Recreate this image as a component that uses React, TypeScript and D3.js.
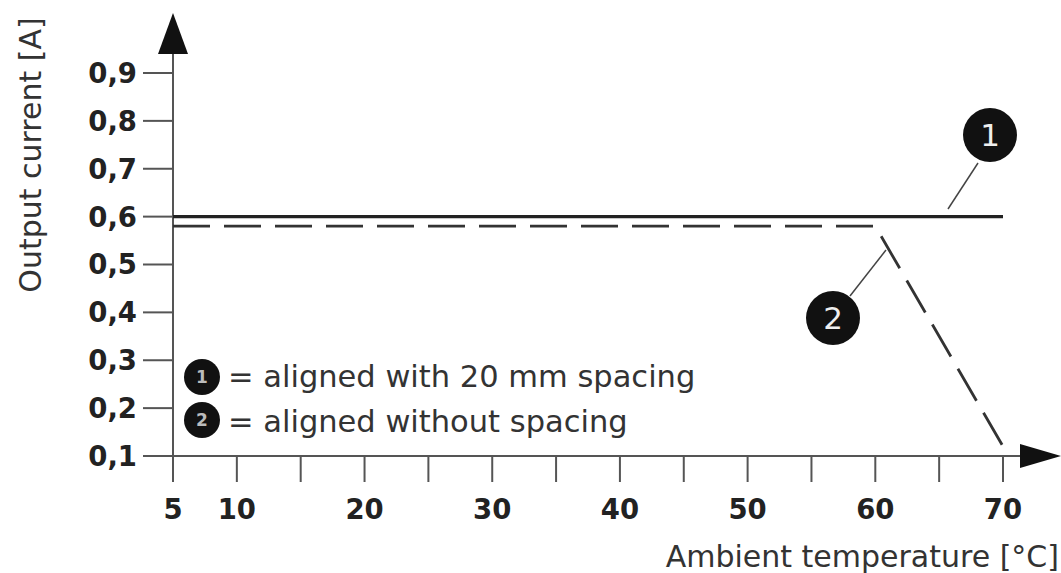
import React from 'react';
import * as d3 from 'd3';

// values
const yTicks = [0.1, 0.2, 0.3, 0.4, 0.5, 0.6, 0.7, 0.8, 0.9];
const xTicks = [5, 10, 15, 20, 25, 30, 35, 40, 45, 50, 55, 60, 65, 70];
const xLabels = [5, 10, 20, 30, 40, 50, 60, 70];
const curve1: [number, number][] = [[5, 0.6], [70, 0.6]];
const curve2: [number, number][] = [[5, 0.58], [60, 0.58], [70, 0.12]];
const legend = ['= aligned with 20 mm spacing', '= aligned without spacing'];

const W = 1061;
const H = 573;
const font = '"DejaVu Sans", Verdana, sans-serif';

export default function App() {
  const x = d3.scaleLinear().domain([5, 70]).range([173, 1003]);
  const y = d3.scaleLinear().domain([0.1, 0.9]).range([456, 73]);
  const line = d3.line<[number, number]>().x(d => x(d[0])).y(d => y(d[1]));
  const x0 = x(5);
  const yBase = y(0.1);
  const axisCol = '#555';

  return (
    <svg width={W} height={H} style={{ position: 'absolute', left: 0, top: 0, background: '#fff' }}
      fontFamily={font}>
      {/* y axis */}
      <line x1={x0} x2={x0} y1={40} y2={yBase + 26} stroke={axisCol} strokeWidth={2} />
      <path d={`M${x0},13 L${x0 - 15},54 L${x0 + 15},54 Z`} fill="#111" />
      {yTicks.map(t => (
        <g key={t}>
          <line x1={x0 - 30} x2={x0} y1={y(t)} y2={y(t)} stroke={axisCol} strokeWidth={2} />
          <text x={x0 - 36} y={y(t)} dy="0.36em" textAnchor="end" fontSize={27.5} fontWeight="bold" fill="#222">
            {String(t.toFixed(1)).replace('.', ',')}
          </text>
        </g>
      ))}
      {/* x axis */}
      <line x1={x0 - 30} x2={1030} y1={yBase} y2={yBase} stroke={axisCol} strokeWidth={2} />
      <path d={`M1061,${yBase} L1020,${yBase - 12} L1020,${yBase + 12} Z`} fill="#111" />
      {xTicks.map(t => (
        <line key={t} x1={x(t)} x2={x(t)} y1={yBase} y2={yBase + 26} stroke={axisCol} strokeWidth={2} />
      ))}
      {xLabels.map(t => (
        <text key={t} x={x(t)} y={yBase + 63} textAnchor="middle" fontSize={27.5} fontWeight="bold" fill="#222">
          {t}
        </text>
      ))}
      {/* axis titles */}
      <text transform={`translate(41,155) rotate(-90)`} textAnchor="middle" fontSize={30} fill="#333">
        Output current [A]
      </text>
      <text x={1059} y={567} textAnchor="end" fontSize={30} fill="#333">Ambient temperature [°C]</text>
      {/* curves */}
      <path d={line(curve1) || ''} fill="none" stroke="#222" strokeWidth={3.2} />
      <path d={line(curve2) || ''} fill="none" stroke="#333" strokeWidth={2.8} strokeDasharray="37 14" />
      {/* callouts */}
      <line x1={978} y1={163} x2={948} y2={209} stroke="#444" strokeWidth={1.5} />
      <circle cx={990} cy={135} r={27} fill="#111" />
      <text x={990} y={135} dy="0.36em" textAnchor="middle" fontSize={31} fill="#eee">1</text>
      <line x1={850} y1={296} x2={886} y2={250} stroke="#444" strokeWidth={1.5} />
      <circle cx={833} cy={318} r={27} fill="#111" />
      <text x={833} y={318} dy="0.36em" textAnchor="middle" fontSize={31} fill="#eee">2</text>
      {/* legend */}
      {legend.map((l, i) => (
        <g key={l}>
          <circle cx={202} cy={377 + i * 43} r={18} fill="#111" />
          <text x={202} y={377 + i * 43} dy="0.36em" textAnchor="middle" fontSize={17} fontWeight="bold" fill="#bbb">
            {i + 1}
          </text>
          <text x={228} y={387 + i * 45} fontSize={30.5} fill="#333">{l}</text>
        </g>
      ))}
    </svg>
  );
}
